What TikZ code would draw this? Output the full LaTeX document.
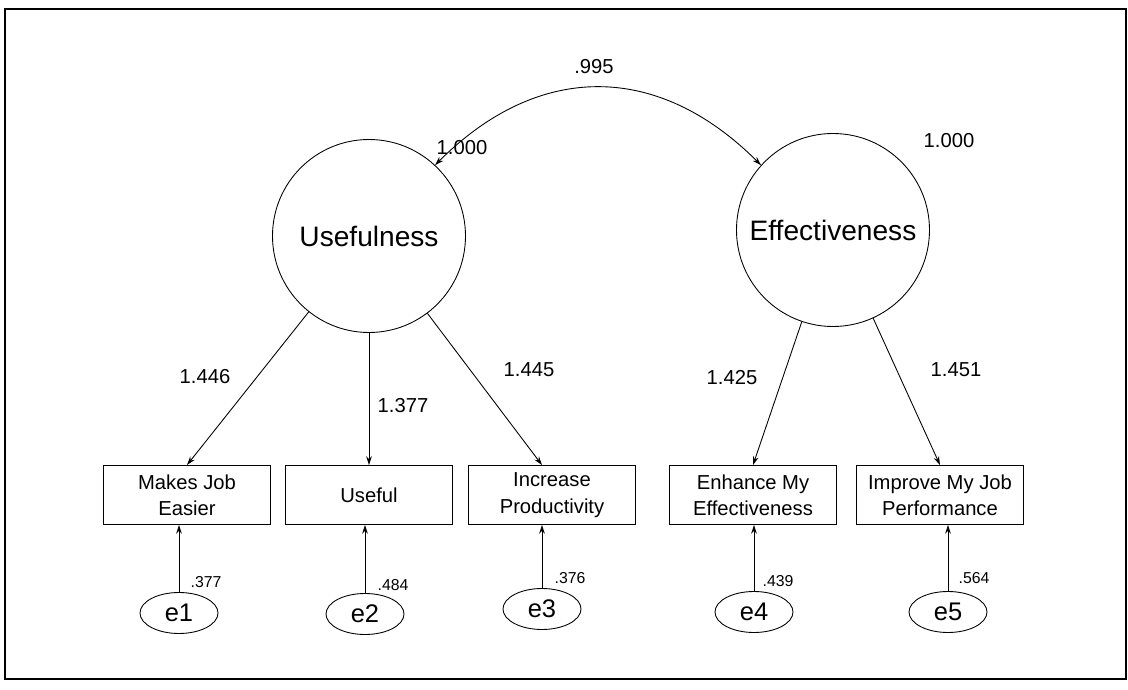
\documentclass[tikz,border=0pt]{standalone}
\usepackage{fontspec}
\setmainfont{Liberation Sans}
\usetikzlibrary{arrows.meta,shapes.geometric}

\begin{document}
\begin{tikzpicture}[
        >={Stealth[length=5pt,width=3.2pt]},
        every path/.style={line width=0.5pt},
        latent/.style={draw, circle, minimum size=3.86cm, inner sep=0pt, font=\fontsize{16}{19}\selectfont},
        observed/.style={draw, rectangle, minimum width=3.34cm, minimum height=1.18cm, inner sep=0pt, align=center, font=\fontsize{11.5}{15}\selectfont},
        errnode/.style={draw, ellipse, minimum width=1.56cm, minimum height=0.82cm, inner sep=0pt, font=\fontsize{14.5}{17}\selectfont},
        coef/.style={font=\fontsize{11.5}{14}\selectfont},
        smallcoef/.style={font=\fontsize{9}{11}\selectfont}
    ]
        % Page and frame
        \useasboundingbox (0, 0) rectangle (22.56, -13.8);
        \draw[line width=1.1pt] (0.1, -0.18) rectangle (22.52, -13.58);

        % Draw the two factors
        \node[latent] (use) at (7.38, -4.72) {Usefulness};
        \node[latent] (eff) at (16.66, -4.6) {Effectiveness};

        % Correlation between the factors
        \draw[<->] (use.47) to[out=45, in=135, looseness=1.15] (eff.138);
        \node[coef] (r) at (11.88, -1.34) {.995};
        \node[coef] (vuse) at (9.24, -2.96) {1.000};
        \node[coef] (veff) at (18.98, -2.82) {1.000};

        % Draw the indicators
        \node[observed] (mje) at (3.74, -9.9) {Makes Job\\Easier};
        \node[observed] (usf) at (7.38, -9.9) {Useful};
        \node[observed] (ip) at (11.04, -9.9) {Increase\\Productivity};
        \node[observed] (eme) at (15.06, -9.9) {Enhance My\\Effectiveness};
        \node[observed] (imjp) at (18.8, -9.9) {Improve My Job\\Performance};

        % Draw the error terms
        \node[errnode] (e1) at (3.58, -12.26) {e1};
        \node[errnode] (e2) at (7.3, -12.28) {e2};
        \node[errnode] (e3) at (10.84, -12.18) {e3};
        \node[errnode] (e4) at (15.08, -12.24) {e4};
        \node[errnode] (e5) at (18.96, -12.24) {e5};

        % Loadings
        \draw[->] (use) -- (mje.north);
        \draw[->] (use) -- (usf.north);
        \draw[->] (use) -- (e3 |- ip.north);
        \draw[->] (eff) -- (eme.north);
        \draw[->] (eff) -- (imjp.north);

        \node[coef] (l1) at (4.1, -7.54) {1.446};
        \node[coef] (l2) at (8.06, -8.12) {1.377};
        \node[coef] (l3) at (10.58, -7.4) {1.445};
        \node[coef] (l4) at (14.64, -7.56) {1.425};
        \node[coef] (l5) at (19.12, -7.4) {1.451};

        % Errors into indicators
        \draw[->] (e1) -- (e1 |- mje.south);
        \draw[->] (e2) -- (e2 |- usf.south);
        \draw[->] (e3) -- (e3 |- ip.south);
        \draw[->] (e4) -- (e4 |- eme.south);
        \draw[->] (e5) -- (e5 |- imjp.south);

        \node[smallcoef] (v1) at (4.12, -11.64) {.377};
        \node[smallcoef] (v2) at (7.86, -11.7) {.484};
        \node[smallcoef] (v3) at (11.4, -11.56) {.376};
        \node[smallcoef] (v4) at (15.56, -11.62) {.439};
        \node[smallcoef] (v5) at (19.48, -11.56) {.564};
    \end{tikzpicture}
\end{document}
